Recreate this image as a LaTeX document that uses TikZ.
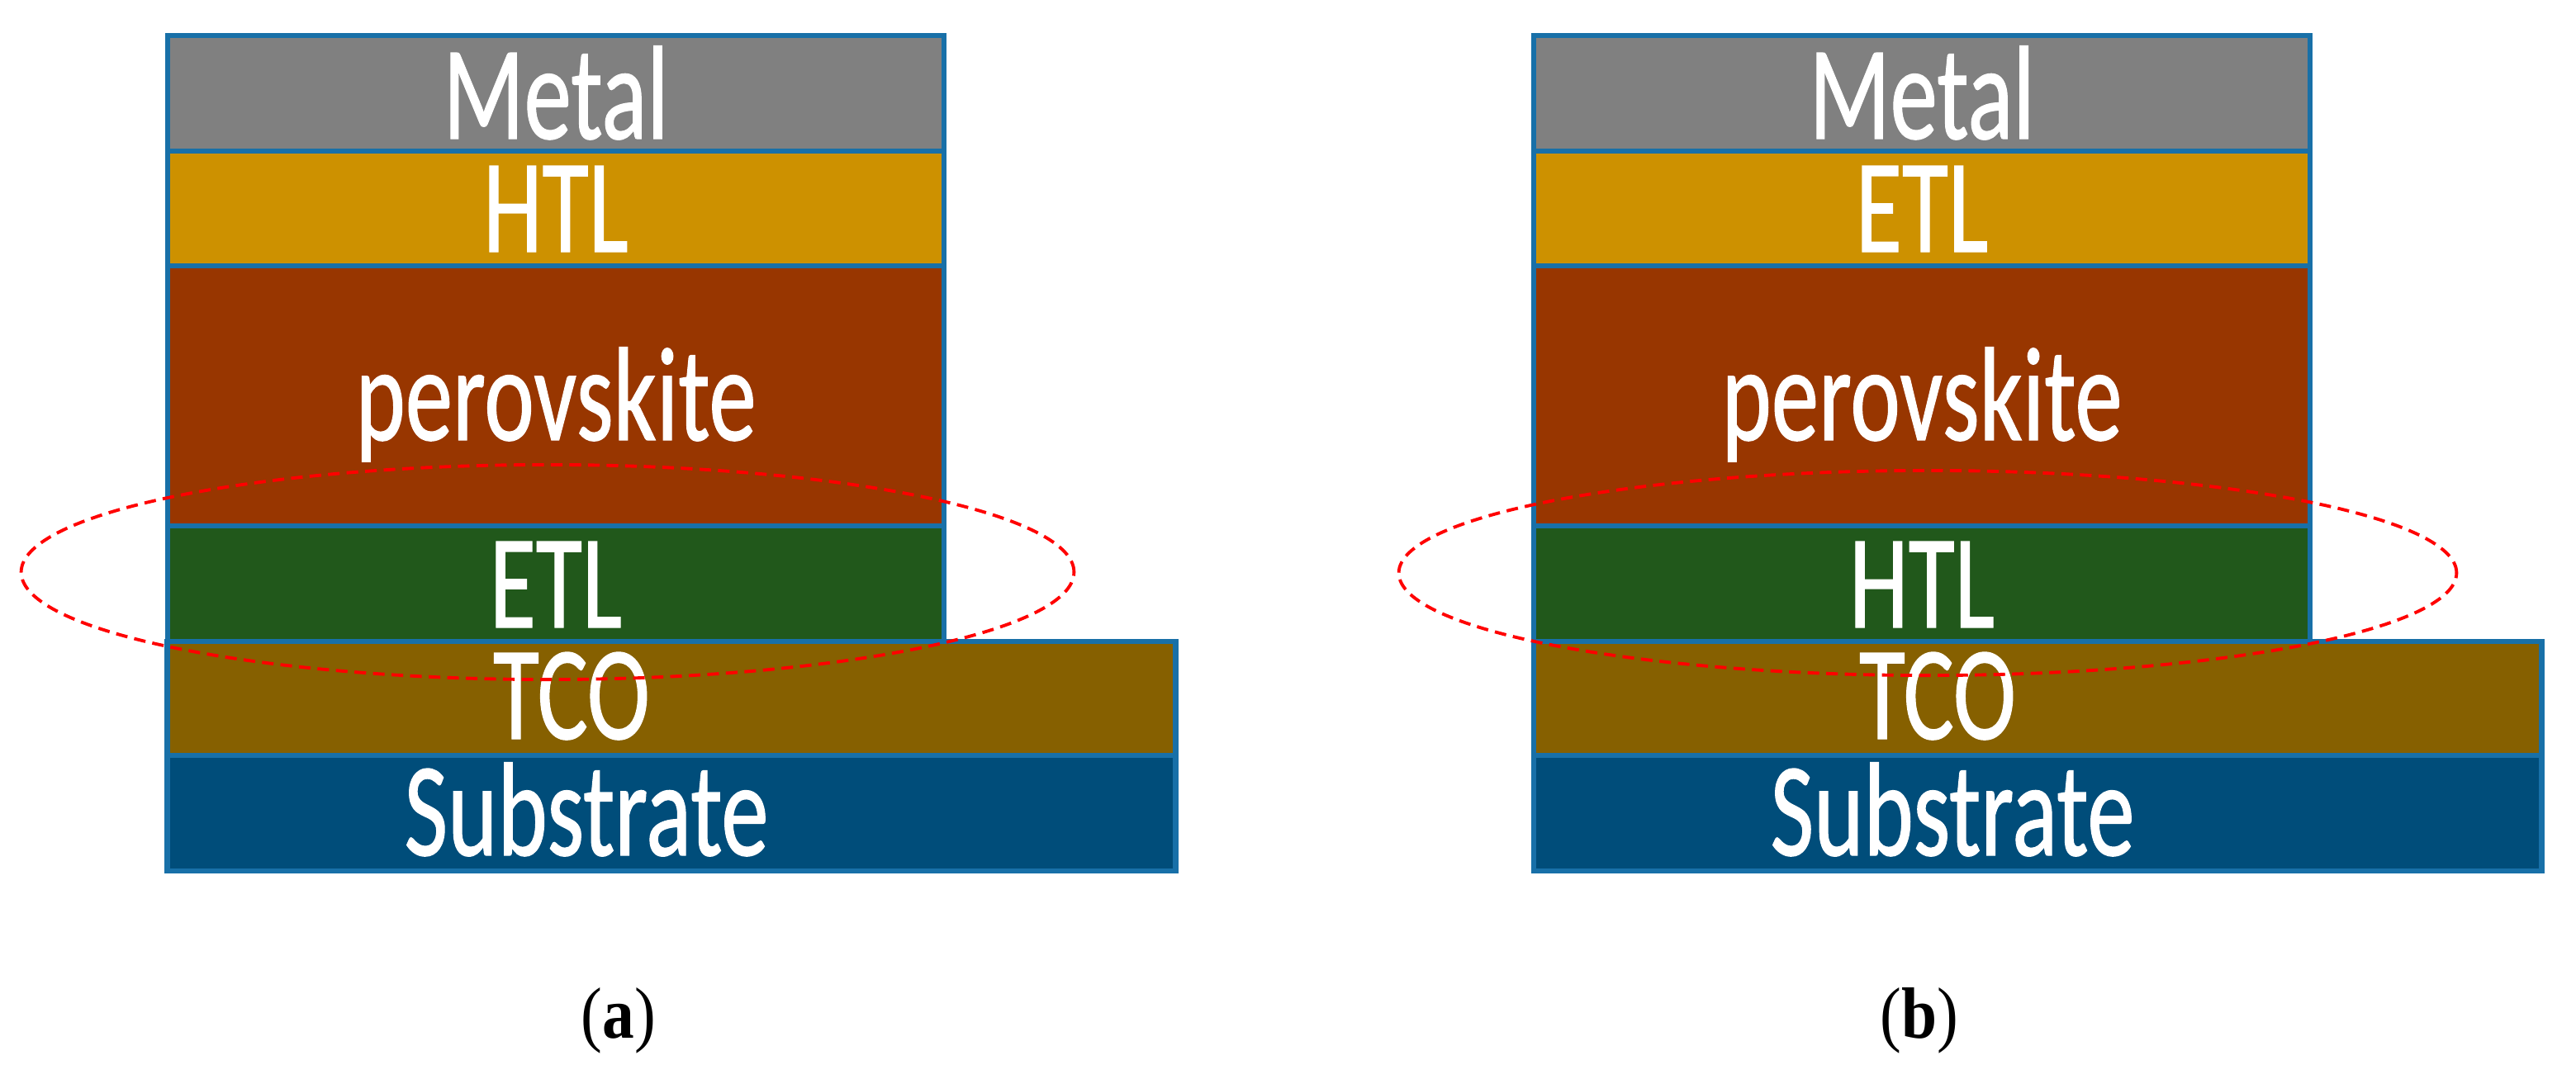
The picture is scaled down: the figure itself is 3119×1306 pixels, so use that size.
\documentclass[tikz,border=0pt]{standalone}
\usepackage{fontspec}
\usepackage{graphicx}
\setmainfont{Liberation Serif}
\newfontfamily\layfont[FakeBold=0.9]{Carlito}
\usetikzlibrary{shapes.geometric}
\definecolor{cmetal}{RGB}{128,128,128}
\definecolor{ctop}{RGB}{205,145,0}
\definecolor{cperov}{RGB}{152,54,0}
\definecolor{cgreen}{RGB}{33,88,27}
\definecolor{ctco}{RGB}{134,96,0}
\definecolor{csub}{RGB}{0,77,122}
\definecolor{cedge}{RGB}{24,112,168}
\tikzset{
  layerbox/.style={rectangle, draw=cedge, line width=1.8pt, inner sep=0pt, outer sep=0pt},
  laytext/.style={anchor=base, text=white, inner sep=0pt, text height=0.64em, text depth=0pt,
    font=\layfont\fontsize{46}{54}\selectfont},
  ringmark/.style={ellipse, draw=red, line width=1.1pt, dash pattern=on 4pt off 2.4pt, inner sep=0pt, fill=none},
  caplabel/.style={anchor=base, font=\fontsize{25}{30}\selectfont, inner sep=0pt}
}
\newcommand{\LayT}[1]{\scalebox{0.71}[1]{#1}}
\newcommand{\CapT}[1]{\scalebox{0.88}[1]{#1}}
\newcommand{\DrawStack}[4]{%
  % #1 shift, #2 name prefix, #3 top transport label, #4 lower transport label
  \begin{scope}[xshift=#1*0.01cm]
    \node[layerbox, fill=cmetal, minimum width=9.40cm, minimum height=1.40cm] (#2metal) at (673,113) {};
    \node[layerbox, fill=ctop,   minimum width=9.40cm, minimum height=1.39cm] (#2top) at (673,252.5) {};
    \node[layerbox, fill=cperov, minimum width=9.40cm, minimum height=3.15cm] (#2perov) at (673,479.5) {};
    \node[layerbox, fill=cgreen, minimum width=9.40cm, minimum height=1.41cm] (#2low) at (673,707.5) {};
    \node[layerbox, fill=ctco,   minimum width=12.20cm, minimum height=1.39cm] (#2tco) at (813,846.5) {};
    \node[layerbox, fill=csub,   minimum width=12.20cm, minimum height=1.40cm] (#2sub) at (813,985) {};
    \node[laytext] (#2metalt) at (673,168) {\LayT{Metal}};
    \node[laytext] (#2topt) at (673,305) {\LayT{#3}};
    \node[laytext, text depth=0.2em] (#2perovt) at (673,533) {\LayT{perovskite}};
    \node[laytext] (#2lowt) at (673,760) {\LayT{#4}};
    \node[laytext] (#2tcot) at (692,895) {\LayT{TCO}};
    \node[laytext] (#2subt) at (710,1036) {\LayT{Substrate}};
  \end{scope}}
\begin{document}
\begin{tikzpicture}[x=0.01cm, y=-0.01cm]
  \useasboundingbox (0,0) rectangle (3119,1306);
  \fill[white] (0,0) rectangle (3119,1306);
  \DrawStack{0}{a}{HTL}{ETL}
  \DrawStack{1654}{b}{ETL}{HTL}
  \node[ringmark, minimum width=12.74cm, minimum height=2.60cm] (ringa) at (663,693) {};
  \node[ringmark, minimum width=12.80cm, minimum height=2.48cm] (ringb) at (2334,694) {};
  \node[caplabel] (capa) at (749,1257) {\CapT{(\textbf{a})}};
  \node[caplabel] (capb) at (2324,1257) {\CapT{(\textbf{b})}};
\end{tikzpicture}
\end{document}
